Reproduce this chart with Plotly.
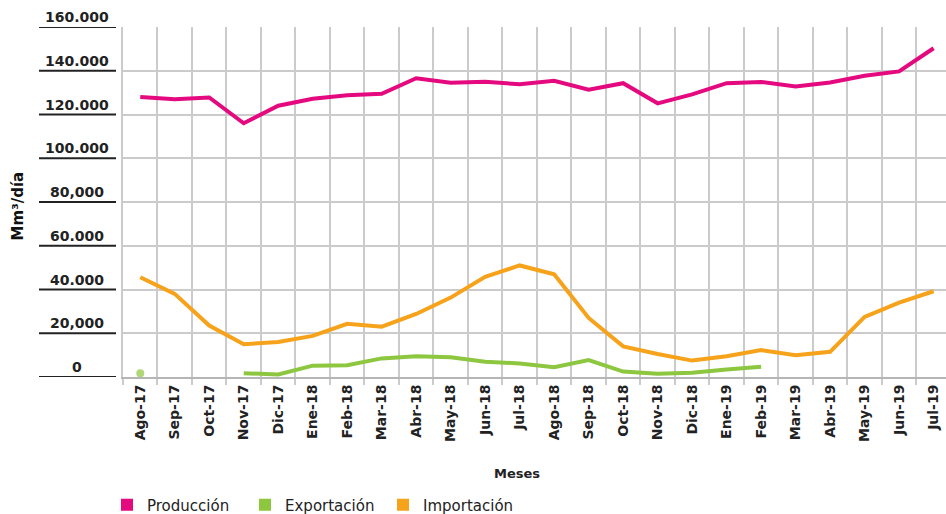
import plotly.graph_objects as go

meses = ["Ago-17", "Sep-17", "Oct-17", "Nov-17", "Dic-17", "Ene-18", "Feb-18", "Mar-18",
         "Abr-18", "May-18", "Jun-18", "Jul-18", "Ago-18", "Sep-18", "Oct-18", "Nov-18",
         "Dic-18", "Ene-19", "Feb-19", "Mar-19", "Abr-19", "May-19", "Jun-19", "Jul-19"]

produccion = [128000, 127000, 127800, 116000, 124000, 127200, 128800, 129500,
              136600, 134500, 135000, 133800, 135400, 131300, 134300, 125100,
              129200, 134300, 134900, 132800, 134600, 137700, 139700, 150300]

exportacion = [1700, None, None, 1700, 1200, 5200, 5400, 8500,
               9500, 9000, 7000, 6200, 4500, 7700, 2500, 1500,
               2000, 3400, 4700, None, None, None, None, None]

importacion = [45600, 38000, 23500, 15000, 16000, 18800, 24300, 23000,
               28800, 36300, 45800, 51000, 47000, 27000, 14000, 10500,
               7500, 9500, 12300, 10000, 11500, 27500, 34000, 39200]

y_ticks = [0, 20000, 40000, 60000, 80000, 100000, 120000, 140000, 160000]
y_tick_labels = ["0", "20,000", "40.000", "60.000", "80,000", "100.000", "120.000", "140.000", "160.000"]

C_PROD = "#E5097F"
C_EXP = "#8DC63F"
C_IMP = "#F7A21B"
GRID = "#CBCBCB"
FONT = "DejaVu Sans"

# isolated points get a marker so they remain visible
def iso_sizes(vals, size):
    out = []
    for i, v in enumerate(vals):
        prev_none = i == 0 or vals[i - 1] is None
        next_none = i == len(vals) - 1 or vals[i + 1] is None
        out.append(size if (v is not None and prev_none and next_none) else 0)
    return out

fig = go.Figure()

fig.add_trace(go.Scatter(x=meses, y=produccion, mode="lines", showlegend=False,
                         line=dict(color=C_PROD, width=4)))
fig.add_trace(go.Scatter(x=meses, y=exportacion, mode="lines+markers", showlegend=False,
                         line=dict(color=C_EXP, width=4),
                         marker=dict(color=C_EXP, size=iso_sizes(exportacion, 8),
                                     symbol="circle", line=dict(width=0))))
fig.add_trace(go.Scatter(x=meses, y=importacion, mode="lines", showlegend=False,
                         line=dict(color=C_IMP, width=4)))

# legend entries with square swatches
for name, col in [("Producción", C_PROD), ("Exportación", C_EXP), ("Importación", C_IMP)]:
    fig.add_trace(go.Scatter(x=[None], y=[None], mode="markers", name=name,
                             marker=dict(symbol="square", size=12, color=col)))

# y tick labels (underlined, centred) drawn as annotations + lines
lab_x = (77 - 123) / 823
for v, t in zip(y_ticks, y_tick_labels):
    fig.add_annotation(x=lab_x, xref="paper", y=v, yref="y", text=t, showarrow=False,
                       xanchor="center", yanchor="bottom", yshift=1, borderpad=0,
                       font=dict(family=FONT, size=14, color="#222", weight="bold"))
    fig.add_shape(type="line", xref="paper", yref="y",
                  x0=(39 - 123) / 823, x1=(116 - 123) / 823, y0=v, y1=v,
                  line=dict(color="#222", width=2))

fig.add_annotation(x=(18 - 123) / 823, xref="paper", y=78000, yref="y", text="Mm³/día",
                   textangle=-90, showarrow=False, xanchor="center", yanchor="middle",
                   font=dict(family=FONT, size=15, color="#111", weight="bold"))
fig.add_annotation(x=(517 - 123) / 823, xref="paper", y=(377 - 473) / 350, yref="paper",
                   text="Meses", showarrow=False, xanchor="center", yanchor="middle",
                   font=dict(family=FONT, size=13, color="#222", weight="bold"))

fig.update_layout(
    width=946, height=514,
    margin=dict(l=123, r=0, t=27, b=137, autoexpand=False),
    plot_bgcolor="white", paper_bgcolor="white",
    xaxis=dict(type="category", range=[-0.5, 23.36], tickson="boundaries",
               automargin=False,
               showgrid=True, gridcolor=GRID, gridwidth=1.5,
               ticks="outside", ticklen=6, tickcolor=GRID, tickwidth=1.5,
               showline=True, linecolor="#B5B5B5", linewidth=2,
               tickangle=-90,
               tickfont=dict(family=FONT, size=14, color="#222", weight="bold")),
    yaxis=dict(range=[0, 160000], tickvals=y_ticks, showticklabels=False,
               automargin=False,
               showgrid=True, gridcolor=GRID, gridwidth=1.5, zeroline=False,
               showline=True, linecolor=GRID, linewidth=1.5),
    legend=dict(orientation="h", x=(107 - 123) / 823, xanchor="left",
                yref="container", y=1 - 505 / 514, yanchor="middle",
                entrywidth=93, entrywidthmode="pixels", itemwidth=30,
                font=dict(family=FONT, size=15, color="#222")),
)

fig.write_html("out.html")
